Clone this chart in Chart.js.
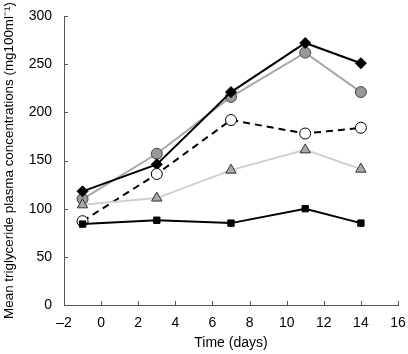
<!DOCTYPE html>
<html><head><meta charset="utf-8">
<script src="https://cdn.jsdelivr.net/npm/chart.js@4/dist/chart.umd.min.js"></script>
<style>html,body{margin:0;padding:0;background:#fff}#wrap{width:408px;height:354px}</style>
</head><body><div id="wrap"><canvas id="c" width="408" height="354"></canvas></div>
<script>
const days = [-1, 3, 7, 11, 14];
const diamondSeries = [118, 146, 221, 272, 251];
const grayCircleSeries = [110, 157, 216, 262, 221];
const openCircleSeries = [87, 136, 192, 178, 184];
const triangleSeries = [104, 111, 140, 161, 141];
const squareSeries = [84, 88, 85, 100, 85];
const xTicks = [-2, 0, 2, 4, 6, 8, 10, 12, 14, 16];
const yTicks = [0, 50, 100, 150, 200, 250, 300];

const pts = arr => arr.map((v, i) => ({x: days[i], y: v}));
const font = 'Liberation Sans, Arial, sans-serif';

const inwardTicks = {
  id: 'inwardTicks',
  afterDraw(chart) {
    const ctx = chart.ctx, xs = chart.scales.x, ys = chart.scales.y;
    ctx.save();
    ctx.strokeStyle = '#555';
    ctx.lineWidth = 1;
    ctx.beginPath();
    xTicks.forEach(t => { const p = Math.round(xs.getPixelForValue(t)) + 0.5; ctx.moveTo(p, ys.bottom); ctx.lineTo(p, ys.bottom - 4); });
    yTicks.forEach(t => { const p = Math.round(ys.getPixelForValue(t)) + 0.5; ctx.moveTo(xs.left, p); ctx.lineTo(xs.left + 4, p); });
    ctx.stroke();
    ctx.restore();
  }
};

new Chart(document.getElementById('c'), {
  type: 'scatter',
  data: {
    datasets: [
      {data: pts(squareSeries), showLine: true, borderColor: '#000', borderWidth: 2, pointStyle: 'rect', pointRadius: 4.5, pointBackgroundColor: '#000', pointBorderColor: '#000', pointBorderWidth: 1},
      {data: pts(triangleSeries), showLine: true, borderColor: '#cfcfcf', borderWidth: 2, pointStyle: 'triangle', pointRadius: 6, pointBackgroundColor: '#a8a8a8', pointBorderColor: '#333', pointBorderWidth: 1},
      {data: pts(openCircleSeries), showLine: true, borderColor: '#000', borderWidth: 2, borderDash: [7, 5], pointStyle: 'circle', pointRadius: 5.5, pointBackgroundColor: '#fff', pointBorderColor: '#000', pointBorderWidth: 1},
      {data: pts(diamondSeries), showLine: true, borderColor: '#000', borderWidth: 2, pointStyle: 'rectRot', pointRadius: 5.5, pointBackgroundColor: '#000', pointBorderColor: '#000', pointBorderWidth: 1},
      {data: pts(grayCircleSeries), showLine: true, borderColor: '#a8a8a8', borderWidth: 2, pointStyle: 'circle', pointRadius: 5.5, pointBackgroundColor: '#999', pointBorderColor: '#444', pointBorderWidth: 1}
    ]
  },
  options: {
    responsive: false,
    animation: false,
    layout: {padding: {top: 16, right: 10, left: 0, bottom: 0}},
    plugins: {legend: {display: false}, tooltip: {enabled: false}},
    scales: {
      x: {
        type: 'linear', min: -2, max: 16,
        afterBuildTicks: s => { s.ticks = xTicks.map(v => ({value: v})); },
        afterFit: s => { s.height = 49; s.paddingLeft = 0; s.paddingRight = 0; },
        grid: {display: false, drawTicks: false},
        border: {display: true, color: '#555', width: 1},
        ticks: {color: '#000', font: {family: font, size: 14}, padding: 10, callback: v => String(v).replace('-', '\u2013'), maxRotation: 0, autoSkip: false},
        title: {display: true, text: 'Time (days)', color: '#000', font: {family: font, size: 14}, padding: {top: 0, bottom: 2}}
      },
      y: {
        type: 'linear', min: 0, max: 300,
        afterBuildTicks: s => { s.ticks = yTicks.map(v => ({value: v})); },
        afterFit: s => { s.width = 64; s.paddingTop = 0; s.paddingBottom = 0; },
        grid: {display: false, drawTicks: false},
        border: {display: true, color: '#555', width: 1},
        ticks: {color: '#000', font: {family: font, size: 14}, padding: 12},
        title: {display: true, text: 'Mean triglyceride plasma concentrations (mg100ml\u207B\u00B9)', color: '#000', font: {family: font, size: 13.4}, padding: {top: 1, bottom: 2}}
      }
    }
  },
  plugins: [inwardTicks]
});
</script>
</body></html>
